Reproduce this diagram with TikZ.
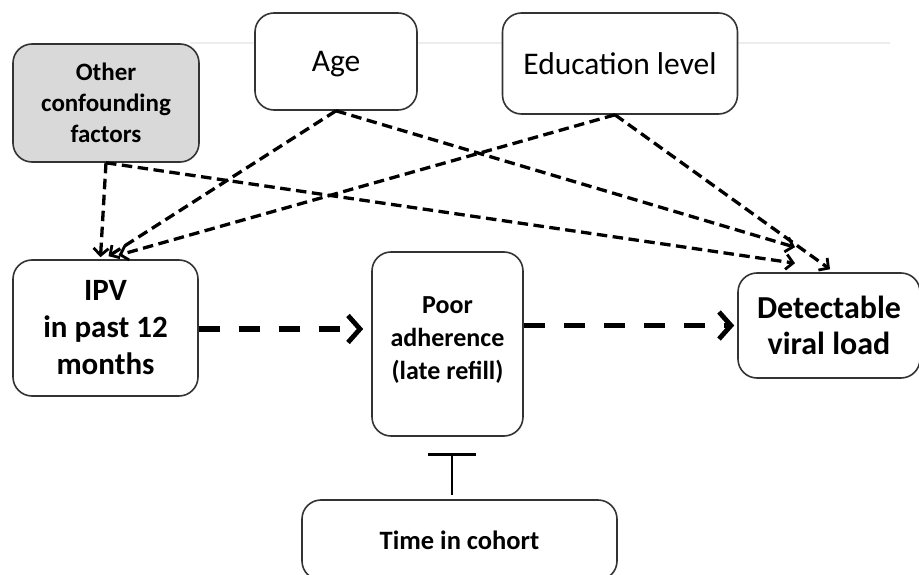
\documentclass[tikz,border=0pt]{standalone}
\usepackage{fontspec}
\setmainfont{Carlito}
\usetikzlibrary{arrows.meta}
\definecolor{boxline}{HTML}{333333}
\definecolor{shade}{HTML}{D9D9D9}
\begin{document}
\begin{tikzpicture}[x=1pt,y=-1pt,
  box/.style={draw=boxline, line width=1.6pt, rounded corners=19pt, fill=white,
    align=center, inner sep=0pt, text=black},
  causal/.style={draw=black, line width=3.3pt, dash pattern=on 10.5pt off 5.5pt,
    -{Straight Barb[length=7pt,width=15pt,line width=2.8pt]}},
  mainpath/.style={draw=black, line width=5.5pt, dash pattern=on 21pt off 19pt,
    -{Straight Barb[length=12pt,width=27pt,line width=4.8pt]}}]
\useasboundingbox (0,0) rectangle (919,575);

% faint rule behind the top row
\draw[black!7, line width=1.2pt] (190,43) -- (890,43);

% covariates
\node[box, fill=shade, minimum width=186pt, minimum height=118pt,
  font=\fontsize{25}{31}\selectfont\bfseries] (other) at (106,103)
  {Other\\confounding\\factors};
\node[box, minimum width=162pt, minimum height=97pt, text height=25pt, text depth=4pt,
  font=\fontsize{31.5}{37}\selectfont] (age) at (336,61.5) {Age};
\node[box, minimum width=235pt, minimum height=101pt, text height=26pt, text depth=4pt,
  font=\fontsize{31.5}{37}\selectfont] (edu) at (620,63.5) {Education level};

% main path
\node[box, minimum width=185pt, minimum height=136pt,
  font=\fontsize{31}{37}\selectfont\bfseries] (ipv) at (105.5,328)
  {IPV\\in past 12\\months};
\node[box, minimum width=151pt, minimum height=184pt,
  font=\fontsize{26}{33}\selectfont\bfseries] (poor) at (447.5,344)
  {Poor\\adherence\\(late refill)\\[-21pt]};
\node[box, minimum width=182pt, minimum height=105pt,
  font=\fontsize{32}{36}\selectfont\bfseries] (det) at (829,325.5)
  {Detectable\\viral load};
\node[box, minimum width=315pt, minimum height=80pt,
  font=\fontsize{26.5}{32}\selectfont\bfseries] (time) at (459.5,540)
  {Time in cohort};

% connector end points (yshift is in page units, so positive means up)
\coordinate (eduout) at ([xshift=-5pt]edu.south);
\coordinate (ipvA) at ([xshift=-5pt,yshift=2pt]ipv.north);
\coordinate (ipvB) at ([xshift=3pt,yshift=3pt]ipv.north);
\coordinate (ipvC) at ([xshift=13pt,yshift=4pt]ipv.north);
\coordinate (detA) at ([xshift=-34pt,yshift=25pt]det.north);
\coordinate (detB) at ([xshift=-34pt,yshift=9pt]det.north);
\coordinate (detC) at ([xshift=1pt,yshift=3pt]det.north);

% confounding paths
\draw[causal] (other.south) -- (ipvA);
\draw[causal] (age.south) -- (ipvB);
\draw[causal] (eduout) -- (ipvC);
\draw[causal] (other.south) -- (detB);
\draw[causal] (age.south) -- (detA);
\draw[causal] (eduout) -- (detC);

% mediated path
\draw[mainpath, shorten >=8pt] ([yshift=-1pt]ipv.east) -- ([yshift=-1pt]ipv.east -| poor.west);
\draw[mainpath, shorten >=3pt] (poor.east |- det.west) -- (det.west);

% blocking bar from time in cohort
\coordinate (tbase) at ([xshift=-7.5pt,yshift=4pt]time.north);
\coordinate (ttop) at ([yshift=41pt]tbase);
\draw[line width=2.6pt] (tbase) -- (ttop);
\draw[line width=2.6pt] ([xshift=-24pt]ttop) -- ([xshift=24pt]ttop);
\end{tikzpicture}
\end{document}
